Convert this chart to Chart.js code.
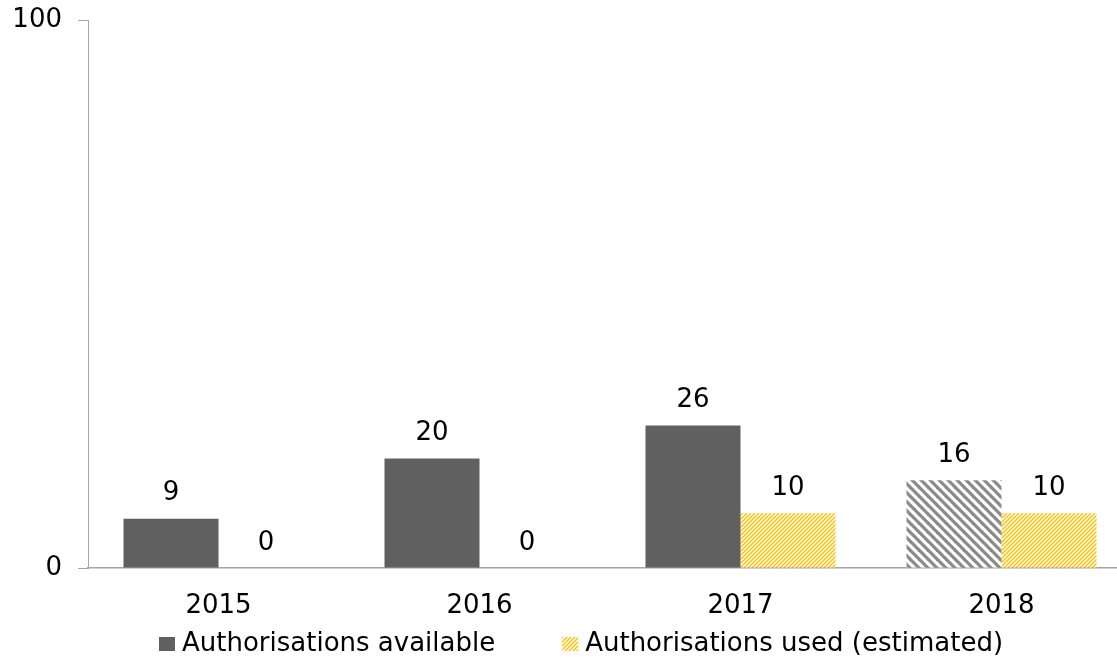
<!DOCTYPE html>
<html lang="en">
<head>
    <meta charset="UTF-8">
    <title>Authorisations</title>
    <script src="https://cdn.jsdelivr.net/npm/chart.js"></script>
    <style>
        html, body { margin: 0; padding: 0; overflow: hidden; background: #fff; }
        #wrap { width: 1132px; height: 659px; }
    </style>
</head>
<body>
    <div id="wrap"><canvas id="barChart"></canvas></div>
    <script>
        const years = ['2015', '2016', '2017', '2018'];
        const available = [9, 20, 26, 16];
        const usedEstimated = [0, 0, 10, 10];
        const yTicks = [0, 100];
        const seriesNames = ['Authorisations available', 'Authorisations used (estimated)'];

        const FONT = '"DejaVu Sans", Verdana, sans-serif';

        // diagonal stripe fill, lines run past the tile so they join up
        function hatch(color, size, width, forward) {
            const c = document.createElement('canvas');
            c.width = size;
            c.height = size;
            const g = c.getContext('2d');
            g.fillStyle = '#ffffff';
            g.fillRect(0, 0, size, size);
            g.strokeStyle = color;
            g.lineWidth = width;
            for (let k = -2; k <= 2; k++) {
                g.beginPath();
                if (forward) {
                    g.moveTo(k * size - size, 2 * size);
                    g.lineTo(k * size + 2 * size, -size);
                } else {
                    g.moveTo(k * size - size, -size);
                    g.lineTo(k * size + 2 * size, 2 * size);
                }
                g.stroke();
            }
            return g.createPattern(c, 'repeat');
        }

        const ctx = document.getElementById('barChart').getContext('2d');
        const grayHatch = hatch('#8a8a8a', 9, 3.2, false);
        const yellowHatch = hatch('#ffc000', 4, 1.4, true);
        const solidGray = '#606060';

        const valueLabels = {
            id: 'valueLabels',
            afterDatasetsDraw(chart) {
                const c = chart.ctx;
                c.save();
                c.font = '26px ' + FONT;
                c.fillStyle = '#000';
                c.textAlign = 'center';
                c.textBaseline = 'middle';
                chart.data.datasets.forEach((ds, i) => {
                    chart.getDatasetMeta(i).data.forEach((bar, j) => {
                        c.fillText(String(ds.data[j]), bar.x, bar.y - 25);
                    });
                });
                c.restore();
            }
        };

        // legend drawn under the axis labels
        const bottomLegend = {
            id: 'bottomLegend',
            afterDraw(chart) {
                const c = chart.ctx;
                const fills = [solidGray, yellowHatch];
                c.save();
                c.font = '26px ' + FONT;
                c.textBaseline = 'middle';
                const gap = 67;
                const widths = seriesNames.map(t => 16 + 7 + c.measureText(t).width);
                const total = widths[0] + gap + widths[1];
                let x = (chart.chartArea.left + chart.chartArea.right) / 2 - 29 - total / 2;
                const y = chart.height - 15;
                seriesNames.forEach((t, i) => {
                    c.fillStyle = fills[i];
                    c.fillRect(x, y - 7, 16, 14);
                    c.fillStyle = '#000';
                    c.fillText(t, x + 23, y);
                    x += widths[i] + gap;
                });
                c.restore();
            }
        };

        new Chart(ctx, {
            type: 'bar',
            data: {
                labels: years,
                datasets: [
                    {
                        label: seriesNames[0],
                        data: available,
                        backgroundColor: available.map((v, i) => i === 3 ? grayHatch : solidGray),
                        borderWidth: 0,
                    },
                    {
                        label: seriesNames[1],
                        data: usedEstimated,
                        backgroundColor: yellowHatch,
                        borderWidth: 0,
                    },
                ],
            },
            options: {
                responsive: true,
                maintainAspectRatio: false,
                animation: false,
                layout: { padding: { top: 20, right: 0, left: 0, bottom: 41 } },
                datasets: {
                    bar: { categoryPercentage: 0.728, barPercentage: 1 },
                },
                plugins: {
                    tooltip: { enabled: false },
                    legend: { display: false },
                },
                scales: {
                    x: {
                        afterFit: axis => {
                            axis.height = 50;
                            axis.paddingLeft = 0;
                            axis.paddingRight = 0;
                        },
                        grid: { display: false },
                        border: { display: true, color: '#a6a6a6', width: 1.5 },
                        ticks: {
                            color: '#000',
                            font: { size: 26, family: FONT },
                            padding: 15,
                        },
                    },
                    y: {
                        min: yTicks[0],
                        max: yTicks[1],
                        afterBuildTicks: axis => { axis.ticks = yTicks.map(v => ({ value: v })); },
                        afterFit: axis => {
                            axis.width = 88;
                            axis.paddingTop = 0;
                            axis.paddingBottom = 0;
                        },
                        grid: { drawOnChartArea: false, drawTicks: true, tickLength: 10, color: '#a6a6a6' },
                        border: { display: true, color: '#a6a6a6', width: 1 },
                        ticks: {
                            color: '#000',
                            font: { size: 26, family: FONT },
                            padding: 16,
                        },
                    },
                },
            },
            plugins: [valueLabels, bottomLegend],
        });
    </script>
</body>
</html>
